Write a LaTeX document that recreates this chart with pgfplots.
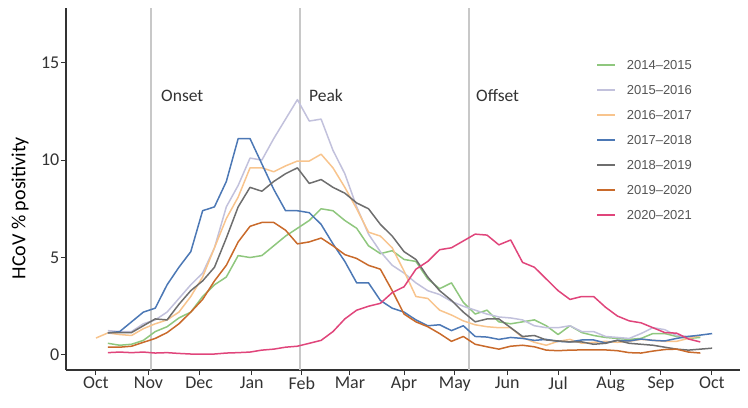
\documentclass[border=0pt]{standalone}
\usepackage{pgfplots}
\usepackage{pgfplotstable}
\pgfplotsset{compat=1.18}
\usepackage{fontspec}
\setmainfont{Carlito}
\newfontfamily\legfont{Liberation Sans}
\definecolor{cg}{HTML}{8FC77E}
\definecolor{cl}{HTML}{C2C1DC}
\definecolor{co}{HTML}{F8C48D}
\definecolor{cb}{HTML}{4C78B5}
\definecolor{cd}{HTML}{6E6E6E}
\definecolor{cr}{HTML}{C96A2B}
\definecolor{cp}{HTML}{E0457B}
\definecolor{axc}{HTML}{333333}
\definecolor{vl}{HTML}{C8C8C8}
\definecolor{legt}{HTML}{555555}

\pgfplotstableread{
w g l o b d r p
0 nan nan 0.87 nan nan nan nan
1 0.6 1.25 1.13 1.13 1.15 0.4 0.12
2 0.5 1.2 1.05 1.2 1.15 0.4 0.15
3 0.55 1.2 1.0 1.7 1.15 0.45 0.12
4 0.75 1.6 1.35 2.2 1.5 0.65 0.15
5 1.2 1.8 1.6 2.4 1.85 0.85 0.1
6 1.45 2.2 1.8 3.6 1.8 1.15 0.12
7 1.9 2.9 2.2 4.5 2.6 1.6 0.08
8 2.2 3.6 3.0 5.3 3.3 2.2 0.05
9 3.0 4.2 4.0 7.4 3.8 2.85 0.05
10 3.6 5.5 5.5 7.6 4.5 3.8 0.05
11 4.0 7.6 7.0 8.9 6.0 4.6 0.1
12 5.1 8.7 8.1 11.1 7.6 5.8 0.12
13 5.0 10.1 9.6 11.1 8.6 6.6 0.15
14 5.1 10.0 9.6 9.8 8.4 6.8 0.25
15 5.6 11.1 9.4 8.5 8.9 6.8 0.3
16 6.1 12.1 9.7 7.4 9.3 6.4 0.4
17 6.5 13.1 9.95 7.4 9.6 5.7 0.45
18 6.9 12.0 9.95 7.3 8.8 5.8 0.6
19 7.5 12.1 10.3 6.7 9.0 6.0 0.75
20 7.4 10.5 9.6 5.7 8.6 5.6 1.2
21 6.9 9.3 8.6 4.8 8.3 5.15 1.85
22 6.5 7.6 7.5 3.7 7.8 4.95 2.3
23 5.6 6.2 6.3 3.7 7.5 4.6 2.5
24 5.2 5.3 6.1 2.8 6.7 4.4 2.65
25 5.35 4.6 5.5 2.4 6.1 3.3 3.2
26 4.9 4.2 4.3 2.2 5.3 2.1 3.5
27 4.8 3.7 3.0 1.8 4.9 1.7 4.4
28 3.9 3.3 2.9 1.5 4.0 1.45 4.8
29 3.4 3.1 2.3 1.55 3.3 1.1 5.4
30 3.7 2.75 2.05 1.25 2.8 0.7 5.5
31 2.7 2.5 1.75 1.5 2.2 0.95 5.85
32 2.1 2.3 1.55 0.95 1.7 0.55 6.2
33 2.3 2.1 1.45 0.92 1.85 0.42 6.15
34 1.7 1.95 1.4 0.8 1.85 0.3 5.65
35 1.6 1.9 1.4 0.9 1.4 0.45 5.9
36 1.7 1.8 0.9 0.85 0.95 0.5 4.75
37 1.8 1.5 0.65 0.75 1.0 0.42 4.5
38 1.5 1.4 0.5 0.8 0.77 0.25 3.9
39 1.05 1.4 0.7 0.7 0.72 0.22 3.3
40 1.5 1.5 0.8 0.67 0.67 0.25 2.85
41 1.15 1.2 0.6 0.77 0.67 0.26 3.0
42 1.0 1.2 0.65 0.77 0.55 0.26 3.0
43 0.9 0.95 0.7 0.62 0.6 0.26 2.45
44 0.85 0.9 0.65 0.75 0.75 0.22 2.0
45 0.8 0.85 0.7 0.72 0.6 0.12 1.75
46 0.85 1.1 0.8 0.82 0.55 0.1 1.65
47 1.1 1.4 0.75 0.75 0.5 0.2 1.4
48 1.1 1.3 0.7 0.72 0.4 0.28 1.15
49 0.95 1.0 0.7 0.85 0.3 0.3 1.12
50 0.85 0.95 0.85 0.95 0.25 0.15 0.82
51 0.9 1.0 1.0 1.02 0.3 0.1 0.67
52 nan nan nan 1.1 0.35 nan nan
}\datatable

\begin{document}
\begin{tikzpicture}
\useasboundingbox (0,0) rectangle (748bp,408bp);
\begin{axis}[
  at={(66bp,38bp)}, anchor=south west,
  scale only axis, width=674bp, height=362bp,
  xmin=-2.53, xmax=54.35, ymin=-0.77, ymax=17.8,
  axis x line=bottom, axis y line=left,
  axis line style={-, color=axc, line width=1.2bp},
  xtick={0,4.43,8.71,13.14,17.38,21.43,26,30.29,34.71,39,43.43,47.68,51.98},
  xticklabels={Oct,Nov,Dec,Jan,Feb,Mar,Apr,May,Jun,Jul,Aug,Sep,Oct},
  ytick={0,5,10,15},
  tick align=outside, major tick length=5bp,
  tick style={color=axc, line width=1bp},
  tick label style={font=\fontsize{18bp}{20bp}\selectfont, text=axc, inner sep=1.5bp},
  /pgf/number format/assume math mode=true,
  ylabel={HCoV \% positivity},
  ylabel style={at={(axis description cs:-0.068,0.447)}, anchor=center, font=\fontsize{20bp}{22bp}\selectfont, text=black},
  legend style={at={(axis description cs:0.782,0.862)}, anchor=north west, draw=none, fill=none,
    font=\legfont\fontsize{13bp}{15bp}\selectfont, text=legt, row sep=15.5bp, column sep=11bp,
    nodes={inner sep=0bp, text height=9.5bp, text depth=0bp}},
  legend cell align=left,
  legend image code/.code={\draw[#1, line width=1.6bp] (0bp,0bp) -- (18bp,0bp);},
  every axis plot/.append style={line width=1.5bp, line join=round, mark=none},
  clip=false,
]
\draw[vl, line width=1.5bp] (axis cs:4.64,-0.77) -- (axis cs:4.64,17.8);
\draw[vl, line width=1.5bp] (axis cs:17.2,-0.77) -- (axis cs:17.2,17.8);
\draw[vl, line width=1.5bp] (axis cs:31.5,-0.77) -- (axis cs:31.5,17.8);
\node[anchor=base west, inner sep=0pt, font=\fontsize{17.5bp}{20bp}\selectfont, text=axc] at (axis cs:5.49,13.0) {Onset};
\node[anchor=base west, inner sep=0pt, font=\fontsize{17.5bp}{20bp}\selectfont, text=axc] at (axis cs:17.97,13.0) {Peak};
\node[anchor=base west, inner sep=0pt, font=\fontsize{17.5bp}{20bp}\selectfont, text=axc] at (axis cs:32.07,13.0) {Offset};
\addplot[cg] table[x=w, y=g] {\datatable};
\addlegendentry{2014–2015}
\addplot[cl] table[x=w, y=l] {\datatable};
\addlegendentry{2015–2016}
\addplot[co] table[x=w, y=o] {\datatable};
\addlegendentry{2016–2017}
\addplot[cb] table[x=w, y=b] {\datatable};
\addlegendentry{2017–2018}
\addplot[cd] table[x=w, y=d] {\datatable};
\addlegendentry{2018–2019}
\addplot[cr] table[x=w, y=r] {\datatable};
\addlegendentry{2019–2020}
\addplot[cp] table[x=w, y=p] {\datatable};
\addlegendentry{2020–2021}
\end{axis}
\end{tikzpicture}
\end{document}
